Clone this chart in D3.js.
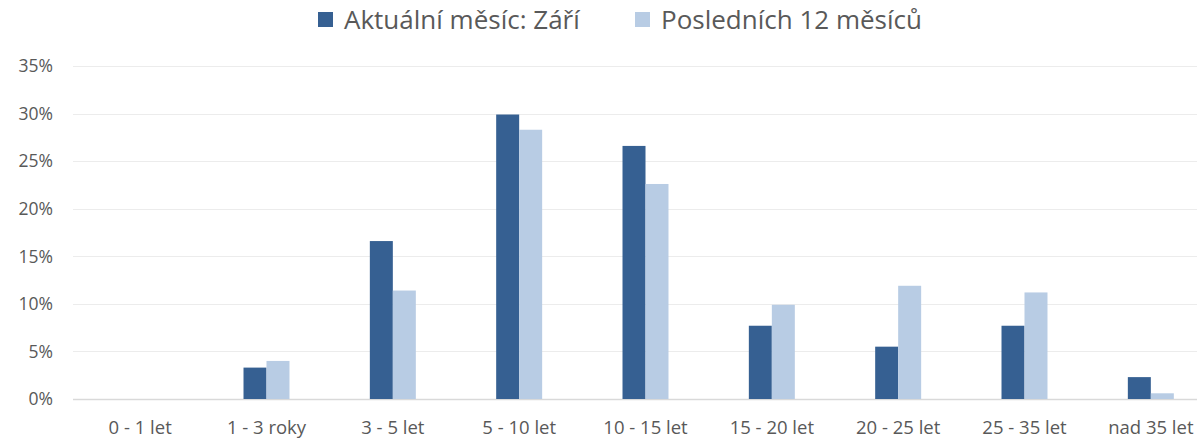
<!DOCTYPE html>
<html>
<head>
<meta charset="utf-8">
<script src="https://cdn.jsdelivr.net/npm/d3@7"></script>
<style>
  body { margin: 0; background: #fff; }
  svg { display: block; font-family: "Open Sans", sans-serif; }
</style>
</head>
<body>
<div class="chart"></div>
<script>
"use strict";

const categories = ["0 - 1 let", "1 - 3 roky", "3 - 5 let", "5 - 10 let", "10 - 15 let",
  "15 - 20 let", "20 - 25 let", "25 - 35 let", "nad 35 let"];
const seriesNames = ["Aktuální měsíc: Září", "Posledních 12 měsíců"];
const currentMonth = [0, 3.3, 16.6, 29.9, 26.6, 7.7, 5.5, 7.7, 2.3];
const last12Months = [0, 4.0, 11.4, 28.3, 22.6, 9.9, 11.9, 11.2, 0.6];
const yTicks = [0, 5, 10, 15, 20, 25, 30, 35];
const colors = ["#366092", "#b8cce4"];

const width = 1197;
const height = 440;
const plot = { left: 73, top: 66, bottom: 399 };

const svg = d3
  .select(".chart")
  .append("svg")
  .attr("width", width)
  .attr("height", height);

const y = d3.scaleLinear().domain([0, 35]).range([plot.bottom, plot.top]);

// category bands run a little past the right edge, as in the original
const x0 = d3.scaleBand().domain(categories).range([77, 1214]);
const groupWidth = x0.bandwidth() * 0.364;
const x1 = d3.scaleBand().domain([0, 1]).range([0, groupWidth]);

// grid
svg
  .append("g")
  .selectAll("line")
  .data(yTicks)
  .join("line")
  .attr("x1", plot.left)
  .attr("x2", width)
  .attr("y1", (d) => Math.round(y(d)) + 0.5)
  .attr("y2", (d) => Math.round(y(d)) + 0.5)
  .attr("stroke", (d) => (d === 0 ? "#d9d9d9" : "#ececec"))
  .attr("stroke-width", (d) => (d === 0 ? 1.5 : 1.2));

// y tick labels
svg
  .append("g")
  .attr("fill", "#595959")
  .attr("font-size", 17.5)
  .attr("text-anchor", "end")
  .selectAll("text")
  .data(yTicks)
  .join("text")
  .attr("x", 53)
  .attr("y", (d) => y(d))
  .attr("dy", "0.36em")
  .text((d) => d + "%");

// bars
const rows = categories.map((c, i) => ({ cat: c, values: [currentMonth[i], last12Months[i]] }));

svg
  .append("g")
  .selectAll("g")
  .data(rows)
  .join("g")
  .attr("transform", (d) => `translate(${x0(d.cat) + (x0.bandwidth() - groupWidth) / 2},0)`)
  .selectAll("rect")
  .data((d) => d.values.map((v, k) => ({ v, k })))
  .join("rect")
  .attr("x", (d) => x1(d.k))
  .attr("width", x1.bandwidth())
  .attr("y", (d) => y(d.v))
  .attr("height", (d) => y(0) - y(d.v))
  .attr("fill", (d) => colors[d.k]);

// x labels
svg
  .append("g")
  .attr("fill", "#595959")
  .attr("font-size", 18.5)
  .attr("text-anchor", "middle")
  .selectAll("text")
  .data(categories)
  .join("text")
  .attr("x", (d) => x0(d) + x0.bandwidth() / 2)
  .attr("y", 434)
  .text((d) => d);

// legend
const legendX = [318, 635];
const legend = svg
  .append("g")
  .selectAll("g")
  .data(seriesNames)
  .join("g")
  .attr("transform", (d, i) => `translate(${legendX[i]},0)`);

legend
  .append("rect")
  .attr("x", 0)
  .attr("y", 12)
  .attr("width", 15)
  .attr("height", 15)
  .attr("fill", (d, i) => colors[i]);

legend
  .append("text")
  .attr("x", 26)
  .attr("y", 29)
  .attr("fill", "#595959")
  .attr("font-size", 26)
  .text((d) => d);
</script>
</body>
</html>
